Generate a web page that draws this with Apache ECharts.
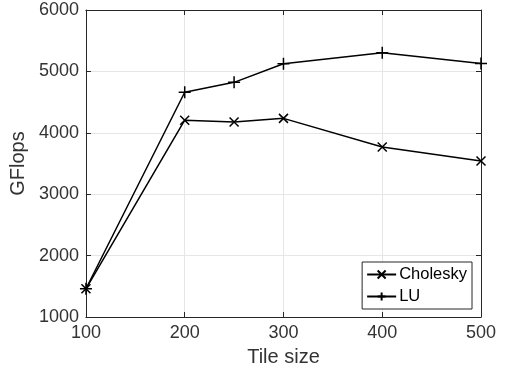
<!DOCTYPE html>
<html>
<head>
<meta charset="utf-8">
<script src="https://cdn.jsdelivr.net/npm/echarts@6/dist/echarts.min.js"></script>
<style>
  html, body { margin: 0; padding: 0; background: #fff; }
  #main { width: 505px; height: 373px; }
</style>
</head>
<body>
<div id="main"></div>
<script>
// tile sizes and measured GFlops
const tileSizes = [100, 200, 250, 300, 400, 500]
const cholesky = [1460, 4205, 4175, 4235, 3770, 3540]
const lu = [1460, 4660, 4822, 5125, 5305, 5128]
const seriesNames = ['Cholesky', 'LU']

const crossSym = 'path://M0,0L10,10M10,0L0,10'
const plusSym = 'path://M5,0L5,10M0,5L10,5'

const txt = '#262626'
const lbl = '#333333'
const font = 'Liberation Sans, Arial, Helvetica, sans-serif'

function pairs(ys) {
  return tileSizes.map((x, i) => [x, ys[i]])
}

const chart = echarts.init(document.getElementById('main'))

const boxAxis = {
  axisLine: { show: true, lineStyle: { color: txt, width: 1 } },
  axisTick: { show: true, inside: true, length: 5, lineStyle: { color: txt } },
  axisLabel: { show: false },
  splitLine: { show: false }
}

chart.setOption({
  animation: false,
  backgroundColor: '#fff',
  textStyle: { fontFamily: font },
  grid: { left: 85, right: 24, top: 10, bottom: 56 },
  xAxis: [
    {
      type: 'value', min: 100, max: 500, interval: 100, position: 'bottom',
      name: 'Tile size', nameLocation: 'middle', nameGap: 30,
      nameTextStyle: { fontSize: 20, color: lbl, fontFamily: font },
      axisLine: { lineStyle: { color: txt, width: 1 } },
      axisTick: { inside: true, length: 5, lineStyle: { color: txt } },
      axisLabel: { fontSize: 18, color: lbl, margin: 7, fontFamily: font },
      splitLine: { show: true, lineStyle: { color: '#e6e6e6' } }
    },
    Object.assign({ type: 'value', min: 100, max: 500, interval: 100, position: 'top' }, boxAxis)
  ],
  yAxis: [
    {
      type: 'value', min: 1000, max: 6000, interval: 1000, position: 'left',
      name: 'GFlops', nameLocation: 'middle', nameGap: 46,
      nameTextStyle: { fontSize: 20, color: lbl, fontFamily: font },
      axisLine: { show: true, lineStyle: { color: txt, width: 1 } },
      axisTick: { show: true, inside: true, length: 5, lineStyle: { color: txt } },
      axisLabel: { fontSize: 18, color: lbl, margin: 7, fontFamily: font, formatter: v => String(v) },
      splitLine: { show: true, lineStyle: { color: '#e6e6e6' } }
    },
    Object.assign({ type: 'value', min: 1000, max: 6000, interval: 1000, position: 'right' }, boxAxis)
  ],
  legend: {
    orient: 'vertical',
    right: 33,
    top: 262,
    padding: [4, 5, 4, 4],
    itemGap: 5,
    itemWidth: 29,
    itemHeight: 10,
    backgroundColor: '#fff',
    borderColor: txt,
    borderWidth: 1,
    borderRadius: 0,
    textStyle: { fontSize: 16.5, color: '#000', fontFamily: font, padding: [0, 0, 0, -2] },
    data: seriesNames
  },
  series: [
    {
      name: seriesNames[0], type: 'line', data: pairs(cholesky),
      symbol: crossSym, symbolSize: 9, showAllSymbol: true,
      lineStyle: { color: '#000', width: 1.5 },
      itemStyle: { color: 'rgba(0,0,0,0)', borderColor: '#000', borderWidth: 1.5 }
    },
    {
      name: seriesNames[1], type: 'line', data: pairs(lu),
      symbol: plusSym, symbolSize: 12, showAllSymbol: true,
      lineStyle: { color: '#000', width: 1.5 },
      itemStyle: { color: 'rgba(0,0,0,0)', borderColor: '#000', borderWidth: 1.5 }
    }
  ]
})
</script>
</body>
</html>
